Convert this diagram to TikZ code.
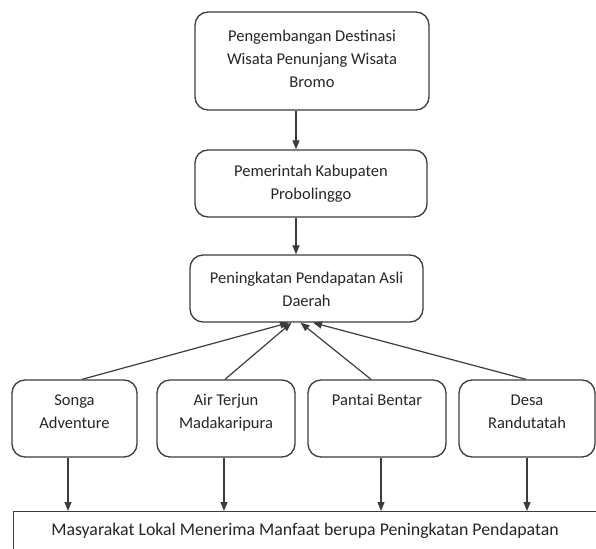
\documentclass[tikz,border=0pt]{standalone}
\usepackage{fontspec}
\setmainfont{Carlito}
\usetikzlibrary{arrows.meta}
\definecolor{ln}{HTML}{3C3C3C}
\definecolor{tx}{HTML}{262626}
\tikzset{
  box/.style={draw=ln, line width=1.3pt, rounded corners=13pt, inner sep=0pt},
  txt/.style={text=tx, align=center, inner sep=0pt, font=\fontsize{16.5}{23}\selectfont},
  arr/.style={draw=ln, line width=1.2pt, -{Triangle[length=9pt,width=7pt]}}
}
\begin{document}
\begin{tikzpicture}[x=1pt,y=-1pt]
\useasboundingbox (0,0) rectangle (596,548);
\clip (0,0) rectangle (596,548);
\fill[white] (0,0) rectangle (596,548);
% top boxes
\node[box, minimum width=234pt, minimum height=98pt] (dest) at (312,61) {};
\node[txt] (destt) at (312,59) {Pengembangan Destinasi\\Wisata Penunjang Wisata\\Bromo};
\node[box, minimum width=232pt, minimum height=67pt] (pemda) at (311,183.5) {};
\node[txt] (pemdat) at (311,184) {Pemerintah Kabupaten\\Probolinggo};
\node[box, minimum width=233pt, minimum height=67pt] (pad) at (306.5,288.5) {};
\node[txt] (padt) at (306.5,289) {Peningkatan Pendapatan Asli\\Daerah};
% bottom row
\node[box, minimum width=125pt, minimum height=77pt] (songa) at (74.5,418.5) {};
\node[txt, anchor=north] (songat) at ([yshift=-15pt]songa.north) {Songa\\Adventure};
\node[box, minimum width=138pt, minimum height=77pt] (air) at (226,418.5) {};
\node[txt, anchor=north] (airt) at ([yshift=-15pt]air.north) {Air Terjun\\Madakaripura};
\node[box, minimum width=138pt, minimum height=77pt] (pantai) at (377,418.5) {};
\node[txt, anchor=north] (pantait) at ([yshift=-15pt]pantai.north) {Pantai Bentar};
\node[box, minimum width=136pt, minimum height=77pt] (desa) at (527,418.5) {};
\node[txt, anchor=north] (desat) at ([yshift=-15pt]desa.north) {Desa\\Randutatah};
% bottom wide box
\node[draw=ln, line width=1.3pt, anchor=north west, minimum width=620pt, minimum height=70pt, inner sep=0pt] (masy) at (13,511) {};
\node[txt, font=\fontsize{17.8}{22}\selectfont] (masyt) at (305,531) {Masyarakat Lokal Menerima Manfaat berupa Peningkatan Pendapatan};
% arrows
\draw[arr] ([xshift=-16pt]dest.south) -- ([xshift=-16pt]dest.south |- pemda.north);
\draw[arr] ([xshift=-15pt]pemda.south) -- ([xshift=-15pt]pemda.south |- pad.north);
\draw[arr] ([xshift=7.5pt]songa.north) -- ([xshift=-17.5pt]pad.south);
\draw[arr] ([xshift=-1pt]air.north) -- ([xshift=-15pt]pad.south);
\draw[arr] ([xshift=-6pt]pantai.north) -- ([xshift=-6pt]pad.south);
\draw[arr] ([xshift=-1pt]desa.north) -- ([xshift=6.5pt]pad.south);
\draw[arr] ([xshift=-6.5pt]songa.south) -- ([xshift=-6.5pt]songa.south |- masy.north);
\draw[arr] ([xshift=-2pt]air.south) -- ([xshift=-2pt]air.south |- masy.north);
\draw[arr] ([xshift=4pt]pantai.south) -- ([xshift=4pt]pantai.south |- masy.north);
\draw[arr] (desa.south) -- (desa.south |- masy.north);
\end{tikzpicture}
\end{document}
